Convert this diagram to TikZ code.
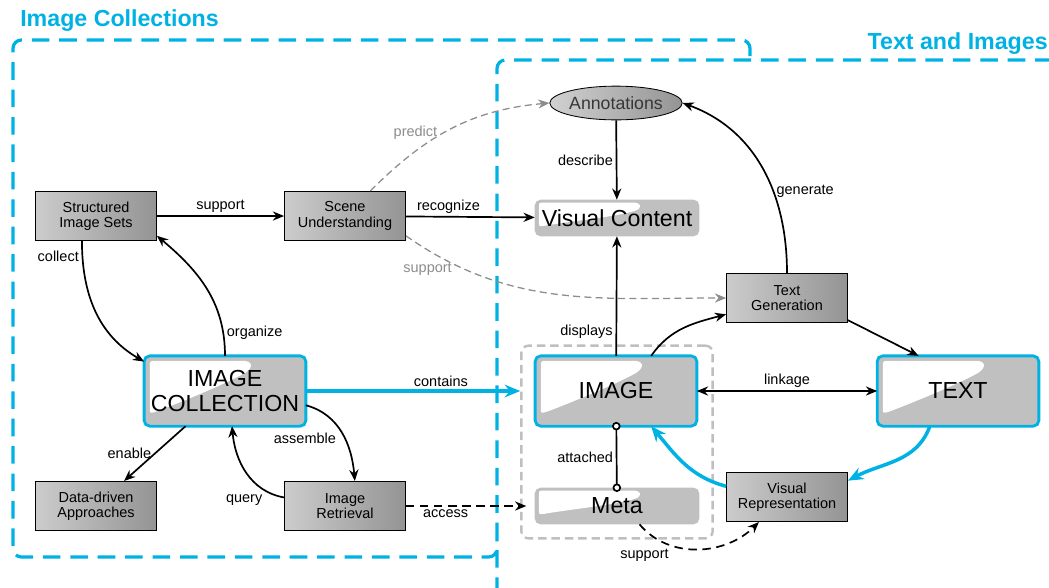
\documentclass[tikz,border=0pt]{standalone}
\usepackage{fontspec}
\setmainfont{Liberation Sans}
\usetikzlibrary{calc}
\usetikzlibrary{arrows.meta}
\usetikzlibrary{shapes.geometric}
\usetikzlibrary{backgrounds}

\definecolor{regioncyan}{RGB}{0,178,228}
\definecolor{boxgray}{RGB}{192,192,192}
\definecolor{annogray}{RGB}{55,55,55}

\tikzset{
  >={Stealth[length=8pt,width=6.5pt]},
  keybox/.style={draw=regioncyan, line width=2pt, rounded corners=4pt, outer sep=0pt, align=center,
    minimum width=115pt, minimum height=50pt, font=\fontsize{16.5}{18}\selectfont},
  flatbox/.style={rounded corners=4pt, outer sep=0pt, inner sep=1pt,
    minimum width=117pt, minimum height=26pt, font=\fontsize{16.5}{18}\selectfont},
  plainbox/.style={draw=black, line width=0.6pt, left color=black!20, right color=black!42,
    minimum width=86pt, minimum height=35pt, align=center, inner sep=1pt,
    font=\fontsize{10.3}{11}\selectfont},
  annot/.style={ellipse, draw=black, line width=0.6pt, left color=black!18, right color=black!42,
    minimum width=86pt, minimum height=24pt, inner sep=0pt, text=annogray,
    font=\fontsize{12.6}{14}\selectfont},
  grpbox/.style={draw=black!25, line width=1.7pt, dash pattern=on 6pt off 3.5pt, rounded corners=5pt,
    minimum width=136pt, minimum height=137pt},
  region/.style={draw=regioncyan, line width=2.3pt, dash pattern=on 12.5pt off 7pt, rounded corners=6pt},
  title/.style={text=regioncyan, inner sep=0pt, font=\fontsize{16.5}{18}\selectfont\bfseries},
  flow/.style={->, line width=1.2pt},
  hint/.style={->, draw=black!45, line width=0.9pt, dash pattern=on 5pt off 3pt},
  bondflow/.style={-{Stealth[length=11pt,width=9pt]}, draw=regioncyan, line width=2.5pt},
  lbl/.style={inner sep=2pt, font=\fontsize{10.3}{12}\selectfont},
  hintlbl/.style={lbl, text=black!45},
}

\begin{document}
\begin{tikzpicture}[x=0.025cm, y=-0.025cm]
  \useasboundingbox (0,0) rectangle (1049,587);

  % titles
  \node[title, anchor=west] (ictitle) at (20,21) {Image Collections};
  \node[title, anchor=east] (tititle) at (1048,44) {Text and Images};

  % blocks
  \node[plainbox] (sis) at (96,216) {Structured\\Image Sets};
  \node[plainbox] (su) at (345,216) {Scene\\Understanding};
  \node[plainbox] (tg) at (787,298) {Text\\Generation};
  \node[plainbox] (dda) at (96,506) {Data-driven\\Approaches};
  \node[plainbox] (ir) at (345,506) {Image\\Retrieval};
  \node[plainbox] (vr) at (787,497) {Visual\\Representation};
  \node[annot] (ann) at (616,103) {Annotations};
  \node[flatbox] (vc) at (617,218) {Visual Content};
  \node[flatbox] (meta) at (617,506) {Meta};
  \node[keybox] (ic) at (225,391) {IMAGE\\COLLECTION};
  \node[keybox] (img) at (616,391) {IMAGE};
  \node[keybox] (txt) at (958,391) {TEXT};

  \begin{scope}[on background layer]
    \node[grpbox] (grp) at (617,442) {};
    \draw[region] (750,56) -- (750,40) -- (13,40) -- (13,557) -- (497,557) -- (497,540);
    \draw[region] (497,595) -- (497,60) -- (1055,60);
    % glossy fills
    \foreach \n in {vc,meta,ic,img,txt}
      \fill[boxgray, rounded corners=4pt] (\n.north west) rectangle (\n.south east);
    \foreach \n in {ic,img,txt}
      \fill[white] ($(\n.north west)+(4pt,-37pt)$) -- ($(\n.north west)+(4pt,-8pt)$)
        .. controls ($(\n.north west)+(4pt,-3.5pt)$) .. ($(\n.north west)+(9pt,-3.5pt)$)
        -- ($(\n.north west)+(70pt,-3.5pt)$)
        .. controls ($(\n.north west)+(77pt,-3.5pt)$) and ($(\n.north west)+(78pt,-8pt)$) .. ($(\n.north west)+(72pt,-12pt)$)
        .. controls ($(\n.north west)+(58pt,-20pt)$) and ($(\n.north west)+(26pt,-33pt)$) .. ($(\n.north west)+(9pt,-39.5pt)$)
        .. controls ($(\n.north west)+(4pt,-41pt)$) .. cycle;
    \foreach \n in {vc,meta}
      \fill[white] ($(\n.north west)+(3pt,-16pt)$) -- ($(\n.north west)+(3pt,-5pt)$)
        .. controls ($(\n.north west)+(3pt,-2pt)$) .. ($(\n.north west)+(7pt,-2pt)$)
        -- ($(\n.north west)+(70pt,-2pt)$)
        .. controls ($(\n.north west)+(76pt,-2pt)$) and ($(\n.north west)+(77pt,-6pt)$) .. ($(\n.north west)+(71pt,-8pt)$)
        .. controls ($(\n.north west)+(58pt,-12pt)$) and ($(\n.north west)+(28pt,-15pt)$) .. ($(\n.north west)+(7pt,-18.5pt)$)
        .. controls ($(\n.north west)+(3pt,-19pt)$) .. cycle;
  \end{scope}

  % relations
  \draw[flow] (sis) -- node[lbl, above] {support} (su);
  \draw[flow] (su) -- node[lbl, above, pos=0.33] {recognize} (vc);
  \draw[hint] ([xshift=18pt]su.north) to[out=45,in=185] node[hintlbl, above, pos=0.35, xshift=-8pt] {predict} (ann.west);
  \draw[hint] (su.-18) to[out=-35,in=180] node[hintlbl, below, pos=0.07, yshift=-7pt] {support} (tg.west);
  \draw[flow] (ann) -- node[lbl, left] {describe} (vc);
  \draw[flow] (tg.north) to[out=90,in=-20] node[lbl, right, pos=0.38] {generate} (ann.east);
  \draw[flow] (img) -- node[lbl, left, pos=0.2] {displays} (vc);
  \draw[flow] ([xshift=25pt]img.north) to[out=55,in=195] (tg.195);
  \draw[flow] (tg.-20) -- ([xshift=-28pt]txt.north);
  \draw[flow, <->] (img) -- node[lbl, above] {linkage} (txt);
  \draw[bondflow] ([xshift=-20pt]txt.south) to[out=-110,in=28] (vr.15);
  \draw[bondflow] (vr.170) to[out=165,in=-50] ([xshift=25pt]img.south);
  \draw[bondflow] (ic.east) -- node[lbl, above, pos=0.63] {contains} (ic.east -| grp.west);
  \draw[line width=1.2pt, {Circle[fill=white,length=6pt]}-{Circle[fill=white,length=6pt]},
        shorten <=-3pt, shorten >=-3pt] (img) -- node[lbl, left] {attached} (meta);
  \draw[flow, dash pattern=on 6pt off 4pt] (ir) -- node[lbl, below, pos=0.33] {access} ([xshift=-6pt]meta.west);
  \draw[flow, dash pattern=on 6pt off 4pt] ([xshift=16pt]meta.south) to[out=-50,in=-135] node[lbl, below left, pos=0.3] {support} ([xshift=-20pt]vr.south);

  \draw[flow] (ic.north) to[out=90,in=-40] node[lbl, right, pos=0.15] {organize} (sis.-18);
  \draw[flow] ([xshift=-10pt]sis.south) to[out=-90,in=150] node[lbl, left, pos=0.1] {collect} (ic.160);
  \draw[flow] (ic) -- node[lbl, left] {enable} (dda);
  \draw[flow] (ic.-10) to[out=-15,in=95] node[lbl, below left, pos=0.45] {assemble} ([xshift=7pt]ir.north);
  \draw[flow] (ir.172) to[out=170,in=-85] node[lbl, below left, pos=0.2] {query} ([xshift=5pt]ic.south);
\end{tikzpicture}
\end{document}
